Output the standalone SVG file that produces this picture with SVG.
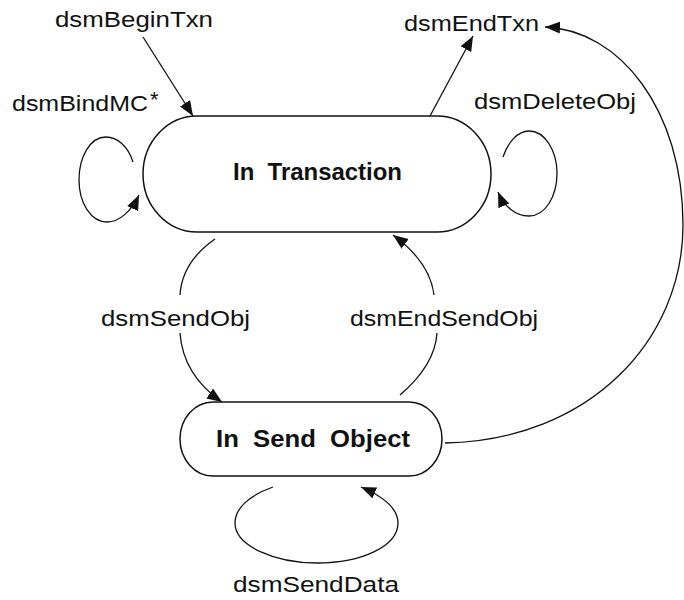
<svg xmlns="http://www.w3.org/2000/svg" width="684" height="600" viewBox="0 0 684 600">
  <defs>
    <marker id="arrow" markerUnits="userSpaceOnUse" markerWidth="16" markerHeight="13" refX="15" refY="6" orient="auto">
      <path d="M0,0 L15,6 L0,12 z" fill="#111"/>
    </marker>
    <style>
      .state { fill: #fff; stroke: #111; stroke-width: 1.5; }
      .state-label { font-family: "Liberation Sans", Arial, sans-serif; font-weight: bold; font-size: 24px; fill: #111; }
      .edge { fill: none; stroke: #111; stroke-width: 1.3; }
      .arrow { marker-end: url(#arrow); }
      .label { font-family: "Liberation Sans", Arial, sans-serif; font-size: 22px; fill: #111; }
    </style>
  </defs>
  <rect width="684" height="600" fill="#fff"/>

  <!-- transitions -->
  <g id="connectors">
    <!-- dsmBeginTxn: entry into In Transaction -->
    <path class="edge arrow" d="M143,37 L193,116"/>
    <!-- dsmEndTxn from In Transaction -->
    <path class="edge arrow" d="M430,116 L473,36"/>
    <!-- dsmEndTxn from In Send Object -->
    <path class="edge arrow" d="M445,443 C590,440 683,340 683,225 C683,110 620,30 545,27"/>
    <!-- dsmBindMC self-loop -->
    <path class="edge arrow" d="M133,162 C128,146 117,137 106,137 C90,137 79,157 79,180 C79,203 91,222 107,222 C120,222 132,210 139,195"/>
    <!-- dsmDeleteObj self-loop -->
    <path class="edge arrow" d="M503,157 C508,142 518,131 529,131 C545,131 557,151 557,173 C557,197 545,216 529,216 C515,216 504,206 498,192"/>
    <!-- dsmSendObj -->
    <path class="edge" d="M215,239 Q182,262 180,295"/>
    <path class="edge arrow" d="M180,333 Q183,375 222,402"/>
    <!-- dsmEndSendObj -->
    <path class="edge" d="M400,395 Q435,365 437,333"/>
    <path class="edge arrow" d="M434,295 Q430,262 393,235"/>
    <!-- dsmSendData self-loop -->
    <path class="edge arrow" d="M273,487 C250,495 235,508 235,523 C235,546 275,563 317,563 C362,563 398,546 398,523 C398,508 382,496 361,487"/>
  </g>

  <!-- transition labels -->
  <g id="labels">
    <text class="label" x="55" y="27" textLength="158" lengthAdjust="spacingAndGlyphs">dsmBeginTxn</text>
    <text class="label" x="12" y="111" textLength="136" lengthAdjust="spacingAndGlyphs">dsmBindMC</text>
    <text class="label" x="150" y="107">*</text>
    <text class="label" x="404" y="31" textLength="135" lengthAdjust="spacingAndGlyphs">dsmEndTxn</text>
    <text class="label" x="474" y="109" textLength="162" lengthAdjust="spacingAndGlyphs">dsmDeleteObj</text>
    <text class="label" x="101" y="326" textLength="149" lengthAdjust="spacingAndGlyphs">dsmSendObj</text>
    <text class="label" x="350" y="326" textLength="188" lengthAdjust="spacingAndGlyphs">dsmEndSendObj</text>
    <text class="label" x="233" y="592" textLength="166" lengthAdjust="spacingAndGlyphs">dsmSendData</text>
  </g>

  <!-- states -->
  <g id="in-transaction">
    <rect class="state" x="143" y="116" width="348" height="116" rx="54" ry="58"/>
    <text class="state-label" x="233" y="180" textLength="169" lengthAdjust="spacingAndGlyphs" xml:space="preserve">In  Transaction</text>
  </g>
  <g id="in-send-object">
    <rect class="state" x="180" y="402" width="262" height="74" rx="33" ry="37"/>
    <text class="state-label" x="216" y="447" textLength="194" lengthAdjust="spacingAndGlyphs" xml:space="preserve">In  Send  Object</text>
  </g>
</svg>
